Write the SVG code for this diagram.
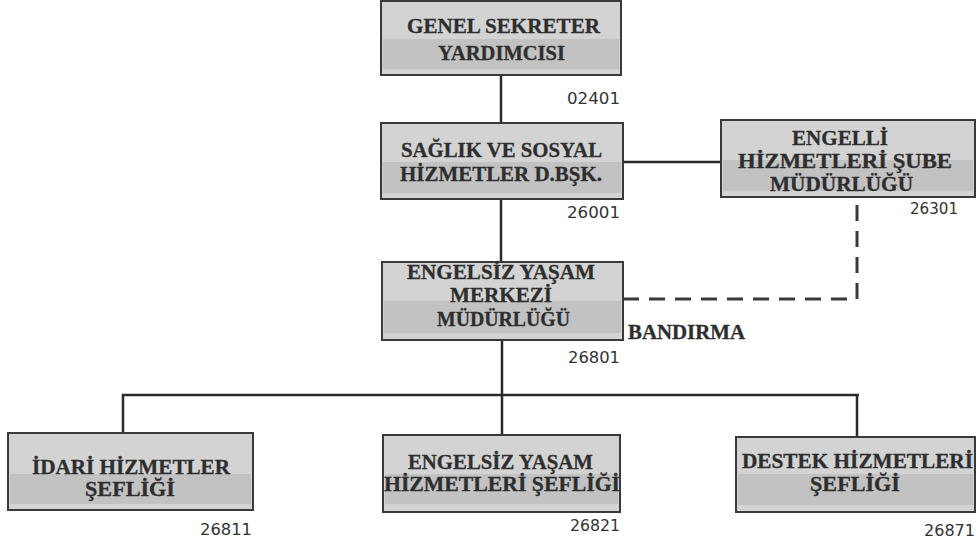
<svg xmlns="http://www.w3.org/2000/svg" width="977" height="542" viewBox="0 0 977 542">
<style>
.box{fill:#d3d3d3;stroke:#3a3a3a;stroke-width:2}
.band{fill:#c2c2c2}
.t{font-family:"Liberation Serif","DejaVu Serif",serif;font-weight:bold;font-size:20px;fill:#2e2e2e;stroke:#2e2e2e;stroke-width:0.3}
.c{font-family:"DejaVu Sans","Liberation Sans",sans-serif;font-size:16px;fill:#333}
.ln{stroke:#2a2a2a;stroke-width:2.5;fill:none}
.dash{stroke:#3a3a3a;stroke-width:3;fill:none;stroke-dasharray:16 10}
</style>
<rect width="977" height="542" fill="#ffffff"/>
<g id="connectors">
<line class="ln" x1="501" y1="75" x2="501" y2="123"/>
<line class="ln" x1="501" y1="199" x2="501" y2="262"/>
<line class="ln" x1="623" y1="162" x2="721" y2="162"/>
<polyline class="dash" points="623,299 857,299 857,197"/>
<line class="ln" x1="502" y1="340" x2="502" y2="435"/>
<polyline class="ln" points="123,433 123,395 859,395"/>
<line class="ln" x1="857" y1="395" x2="857" y2="437"/>
</g>
<g id="n02401">
<rect class="box" x="381" y="1" width="240" height="74"/>
<rect class="band" x="383" y="39" width="236" height="30"/>
<text class="t" x="407" y="33" textLength="193" lengthAdjust="spacingAndGlyphs">GENEL SEKRETER</text>
<text class="t" x="438" y="60" textLength="127" lengthAdjust="spacingAndGlyphs">YARDIMCISI</text>
<text class="c" x="567" y="104" textLength="53" lengthAdjust="spacingAndGlyphs">02401</text>
</g>
<g id="n26001">
<rect class="box" x="381" y="123" width="242" height="76"/>
<rect class="band" x="383" y="162" width="238" height="31"/>
<text class="t" x="401" y="157" textLength="201" lengthAdjust="spacingAndGlyphs">SAĞLIK VE SOSYAL</text>
<text class="t" x="400" y="181" textLength="202" lengthAdjust="spacingAndGlyphs">HİZMETLER D.BŞK.</text>
<text class="c" x="567" y="218" textLength="53" lengthAdjust="spacingAndGlyphs">26001</text>
</g>
<g id="n26301">
<rect class="box" x="721" y="120" width="254" height="77"/>
<rect class="band" x="723" y="160" width="250" height="31"/>
<text class="t" x="792" y="145" textLength="96" lengthAdjust="spacingAndGlyphs">ENGELLİ</text>
<text class="t" x="738" y="168" textLength="214" lengthAdjust="spacingAndGlyphs">HİZMETLERİ ŞUBE</text>
<text class="t" x="770" y="191" textLength="143" lengthAdjust="spacingAndGlyphs">MÜDÜRLÜĞÜ</text>
<text class="c" x="910" y="214" textLength="48" lengthAdjust="spacingAndGlyphs">26301</text>
</g>
<g id="n26801">
<rect class="box" x="382" y="262" width="241" height="78"/>
<rect class="band" x="384" y="301" width="237" height="32"/>
<text class="t" x="407" y="279" textLength="188" lengthAdjust="spacingAndGlyphs">ENGELSİZ YAŞAM</text>
<text class="t" x="450" y="302" textLength="102" lengthAdjust="spacingAndGlyphs">MERKEZİ</text>
<text class="t" x="437" y="326" textLength="133" lengthAdjust="spacingAndGlyphs">MÜDÜRLÜĞÜ</text>
<text class="t" x="628" y="339" textLength="117" lengthAdjust="spacingAndGlyphs">BANDIRMA</text>
<text class="c" x="568" y="363" textLength="52" lengthAdjust="spacingAndGlyphs">26801</text>
</g>
<g id="n26811">
<rect class="box" x="8" y="433" width="245" height="77"/>
<rect class="band" x="10" y="474" width="241" height="30"/>
<text class="t" x="32" y="474" textLength="198" lengthAdjust="spacingAndGlyphs">İDARİ HİZMETLER</text>
<text class="t" x="85" y="496" textLength="90" lengthAdjust="spacingAndGlyphs">ŞEFLİĞİ</text>
<text class="c" x="200" y="535" textLength="52" lengthAdjust="spacingAndGlyphs">26811</text>
</g>
<g id="n26821">
<rect class="box" x="383" y="435" width="237" height="77"/>
<rect class="band" x="385" y="474" width="233" height="30"/>
<text class="t" x="408" y="469" textLength="185" lengthAdjust="spacingAndGlyphs">ENGELSİZ YAŞAM</text>
<text class="t" x="384" y="491" textLength="236" lengthAdjust="spacingAndGlyphs">HİZMETLERİ ŞEFLİĞİ</text>
<text class="c" x="570" y="531" textLength="50" lengthAdjust="spacingAndGlyphs">26821</text>
</g>
<g id="n26871">
<rect class="box" x="736" y="437" width="239" height="75"/>
<rect class="band" x="738" y="474" width="235" height="31"/>
<text class="t" x="742" y="468" textLength="231" lengthAdjust="spacingAndGlyphs">DESTEK HİZMETLERİ</text>
<text class="t" x="810" y="491" textLength="90" lengthAdjust="spacingAndGlyphs">ŞEFLİĞİ</text>
<text class="c" x="924" y="536" textLength="51" lengthAdjust="spacingAndGlyphs">26871</text>
</g>
</svg>
